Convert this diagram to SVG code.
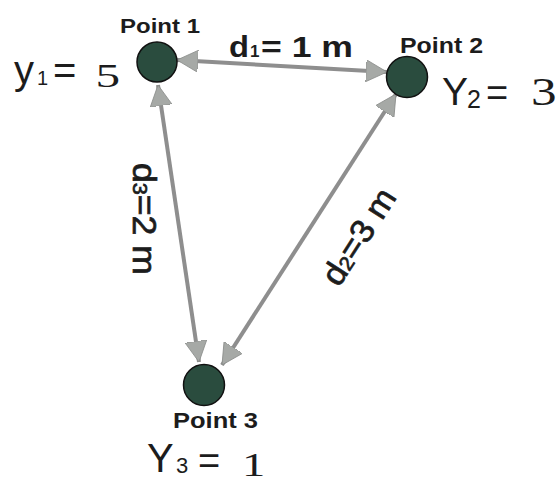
<svg xmlns="http://www.w3.org/2000/svg" width="556" height="484" viewBox="0 0 556 484">
  <style>
    .sans { font-family: "Liberation Sans", Arial, sans-serif; fill: #1c1c1c; }
    .serif { font-family: "Liberation Serif", "Times New Roman", serif; fill: #1c1c1c; }
    .bold { font-weight: bold; }
    .medium { stroke: #1c1c1c; stroke-width: 0.7; }
    .node { fill: #2a4c3e; stroke: #111; stroke-width: 1.5; }
    .link { stroke: #8e8e8e; stroke-width: 4; fill: none; marker-start: url(#arrow); marker-end: url(#arrow); }
  </style>
  <defs>
    <marker id="arrow" markerUnits="userSpaceOnUse" viewBox="0 0 22 22" markerWidth="22" markerHeight="22" refX="21" refY="11" orient="auto-start-reverse">
      <path d="M0,0 L21,11 L0,22 Z" fill="#a6a9a6" stroke="#8a8c8a" stroke-width="0.8"/>
    </marker>
  </defs>
  <rect width="556" height="484" fill="#ffffff"/>

  <g id="connectors">
    <line class="link" x1="177" y1="60" x2="387" y2="72"/>
    <line class="link" x1="158" y1="85" x2="199" y2="362"/>
    <line class="link" x1="396" y1="94" x2="222" y2="365"/>
  </g>

  <g id="point1">
    <circle class="node" cx="157" cy="62" r="20"/>
    <text class="sans bold" x="120" y="33" font-size="21" textLength="80" lengthAdjust="spacingAndGlyphs">Point 1</text>
    <text class="sans" x="14" y="84" font-size="40">y</text>
    <text class="sans" x="37" y="85" font-size="20">1</text>
    <text class="sans" x="53" y="84" font-size="40">=</text>
    <text class="serif" x="95.5" y="87" font-size="34" textLength="24.6" lengthAdjust="spacingAndGlyphs">5</text>
  </g>

  <g id="point2">
    <circle class="node" cx="407" cy="77" r="20.5"/>
    <text class="sans bold" x="400" y="53" font-size="22" textLength="83" lengthAdjust="spacingAndGlyphs">Point 2</text>
    <text class="sans" x="442" y="105" font-size="39">Y</text>
    <text class="sans" x="467" y="108" font-size="25">2</text>
    <text class="sans" x="486" y="106" font-size="38">=</text>
    <text class="serif" x="531" y="105" font-size="40" textLength="25.6" lengthAdjust="spacingAndGlyphs">3</text>
  </g>

  <g id="point3">
    <circle class="node" cx="204" cy="385" r="20.5"/>
    <text class="sans bold" x="173" y="428" font-size="22" textLength="85" lengthAdjust="spacingAndGlyphs">Point 3</text>
    <text class="sans" x="147" y="472" font-size="40">Y</text>
    <text class="sans" x="176" y="473" font-size="22">3</text>
    <text class="sans" x="198" y="474" font-size="38">=</text>
    <text class="serif" x="242" y="476" font-size="34" textLength="23.3" lengthAdjust="spacingAndGlyphs">1</text>
  </g>

  <g id="label-d1">
    <text class="sans bold" x="229" y="57" font-size="29" textLength="20" lengthAdjust="spacingAndGlyphs">d</text>
    <text class="sans bold" x="250" y="57" font-size="17">1</text>
    <text class="sans bold" x="261" y="57" font-size="29" textLength="92" lengthAdjust="spacingAndGlyphs">= 1 m</text>
  </g>

  <g id="label-d3" transform="translate(133,163) rotate(90)">
    <text class="sans medium" x="0" y="0" font-size="33" textLength="112" lengthAdjust="spacingAndGlyphs">d<tspan font-size="20">3</tspan>=2 m</text>
  </g>

  <g id="label-d2" transform="translate(339,288) rotate(-57.3)">
    <text class="sans medium" x="0" y="0" font-size="33" textLength="108" lengthAdjust="spacingAndGlyphs">d<tspan font-size="20">2</tspan>=3 m</text>
  </g>
</svg>
